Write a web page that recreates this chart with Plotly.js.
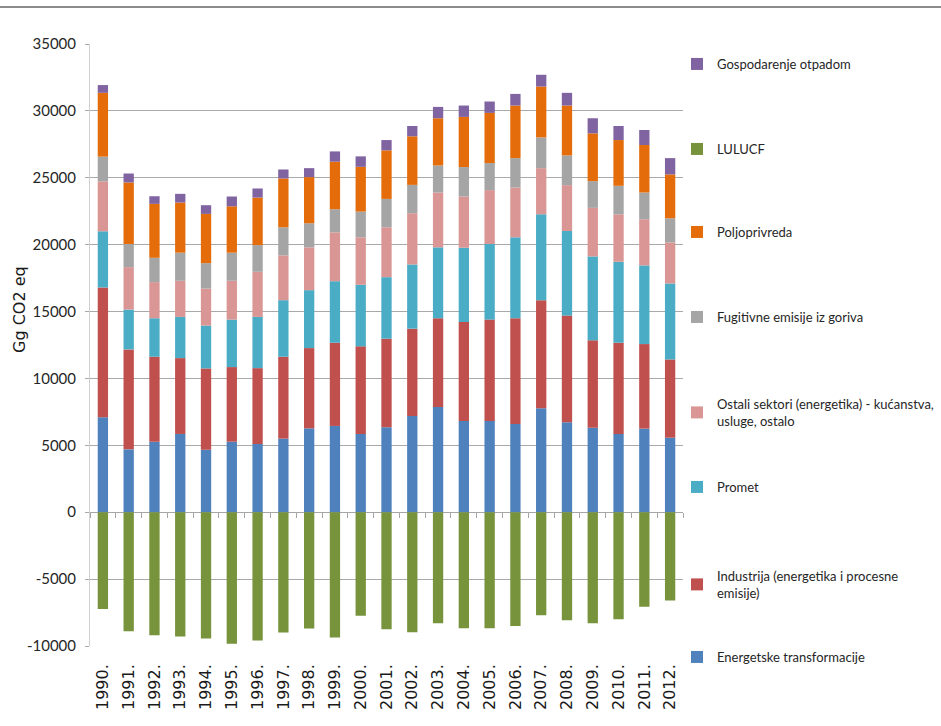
<!DOCTYPE html>
<html>
<head>
<meta charset="utf-8">
<script src="https://cdn.plot.ly/plotly-3.0.1.min.js"></script>
<style>
  html, body { margin: 0; padding: 0; background: #ffffff; }
  #wrap { position: relative; width: 941px; height: 726px; }
  #chart { width: 941px; height: 726px; }
  #topline { position: absolute; left: 0; top: 6px; width: 941px; height: 2px; background: #8c8c8c; z-index: 5; }
</style>
</head>
<body>
<div id="wrap">
  <div id="topline"></div>
  <div id="chart"></div>
</div>
<script>
// ---- data (Gg CO2 eq) ----
const years = ["1990.","1991.","1992.","1993.","1994.","1995.","1996.","1997.","1998.","1999.","2000.","2001.","2002.","2003.","2004.","2005.","2006.","2007.","2008.","2009.","2010.","2011.","2012."];

const energetske = [7100,4700,5270,5850,4670,5270,5100,5500,6270,6450,5850,6350,7200,7870,6820,6820,6600,7770,6720,6320,5850,6250,5570];
const industrija = [9700,7470,6350,5670,6080,5580,5670,6120,6000,6220,6550,6620,6520,6630,7400,7580,7900,8080,7980,6530,6820,6320,5850];
const promet = [4200,2980,2880,3080,3200,3550,3830,4230,4330,4600,4600,4600,4800,5300,5550,5650,6050,6420,6320,6270,6050,5880,5680];
const ostaliSektori = [3730,3170,2700,2700,2770,2900,3370,3350,3200,3650,3550,3730,3830,4100,3830,4030,3720,3450,3430,3630,3550,3450,3070];
const fugitivne = [1850,1730,1820,2100,1900,2100,2000,2100,1800,1730,1920,2120,2120,2020,2200,2020,2200,2300,2220,2000,2130,2000,1800];
const poljoprivreda = [4770,4600,4030,3750,3680,3470,3550,3650,3450,3550,3350,3630,3630,3530,3750,3750,3930,3800,3730,3570,3420,3550,3280];
const otpad = [580,670,570,650,650,730,680,670,670,770,780,770,770,850,850,850,870,880,950,1130,1050,1120,1220];
const lulucf = [-7240,-8890,-9190,-9290,-9440,-9840,-9590,-8990,-8690,-9360,-7740,-8750,-8970,-8300,-8680,-8680,-8500,-7700,-8080,-8300,-8000,-7060,-6590];

// y-axis tick values and labels
const yTickVals = [-10000,-5000,0,5000,10000,15000,20000,25000,30000,35000];
const yTickText = ["-10000","-5000","0","5000","10000","15000","20000","25000","30000","35000"];
const yTitle = "Gg CO2 eq";

const seriesNames = [
  "Energetske transformacije",
  "Industrija (energetika i procesne<br>emisije)",
  "Promet",
  "Ostali sektori (energetika) - kućanstva,<br>usluge, ostalo",
  "Fugitivne emisije iz goriva",
  "Poljoprivreda",
  "Gospodarenje otpadom",
  "LULUCF"
];
const seriesColors = ["#4F81BD","#C0504D","#4BACC6","#D99694","#A5A5A5","#E46C0A","#8064A2","#77933C"];
const seriesValues = [energetske, industrija, promet, ostaliSektori, fugitivne, poljoprivreda, otpad, lulucf];

// ---- layout geometry ----
const W = 941, H = 726;
const M = {l: 90, r: 258, t: 44, b: 80, autoexpand: false};
const plotH = H - M.t - M.b;
const plotW = W - M.l - M.r;
// legend row centre (px from top), same order as seriesNames
const legendRowPx = [658, 577, 488, 405, 318, 233, 65, 150];
const legendLeftPx = 677;
const legendTopOffset = 16;
const yTitlePx = {x: 19, y: 310};

const narrowFamily = "Lato, Liberation Sans, Arial, sans-serif";
const legendFont = {family: narrowFamily, size: 13, color: "#262626"};

const traces = seriesNames.map((name, i) => ({
  type: "bar",
  name: name,
  x: years,
  y: seriesValues[i],
  marker: {color: seriesColors[i], line: {width: 0}},
  xaxis: i === 7 ? "x2" : "x",
  yaxis: "y",
  legend: i === 0 ? "legend" : "legend" + (i + 1),
  hovertemplate: "%{x} %{y}<extra></extra>"
}));

const layout = {
  width: W, height: H,
  margin: M,
  paper_bgcolor: "#ffffff",
  plot_bgcolor: "#ffffff",
  barmode: "relative",
  bargap: 0.6,
  showlegend: true,
  xaxis: {
    type: "category",
    range: [-0.5, 22.5],
    showgrid: false,
    zeroline: false,
    showline: false,
    ticks: "",
    tickangle: -90,
    ticklabelstandoff: 14,
    tickfont: {family: "DejaVu Sans, Verdana, sans-serif", size: 16, color: "#1a1a1a"}
  },
  xaxis2: {
    type: "category",
    overlaying: "x",
    anchor: "free",
    position: 10000 / 45000,
    range: [-0.5, 22.5],
    showgrid: false,
    zeroline: false,
    showline: false,
    showticklabels: false,
    ticks: "outside",
    tickson: "boundaries",
    ticklen: 5,
    tickcolor: "#a6a6a6",
    tickwidth: 1
  },
  yaxis: {
    range: [-10000, 35000],
    tickmode: "array",
    tickvals: yTickVals,
    ticktext: yTickText,
    showgrid: true,
    gridcolor: "#a9a9a9",
    gridwidth: 1,
    zeroline: true,
    zerolinecolor: "#a6a6a6",
    zerolinewidth: 1,
    showline: true,
    linecolor: "#d0d0d0",
    linewidth: 1,
    ticks: "outside",
    ticklen: 4,
    tickcolor: "#a9a9a9",
    ticklabelstandoff: 6,
    tickfont: {family: narrowFamily, size: 15, color: "#262626"}
  },
  annotations: [{
    text: yTitle,
    xref: "paper", yref: "paper",
    x: (yTitlePx.x - M.l) / plotW,
    y: (H - M.b - yTitlePx.y) / plotH,
    xanchor: "center", yanchor: "middle",
    textangle: -90,
    showarrow: false,
    font: {family: "DejaVu Sans, Verdana, sans-serif", size: 16, color: "#1a1a1a"}
  }]
};

seriesNames.forEach((n, i) => {
  const key = i === 0 ? "legend" : "legend" + (i + 1);
  layout[key] = {
    x: (legendLeftPx - M.l) / plotW,
    y: (H - M.b - (legendRowPx[i] - legendTopOffset)) / plotH,
    xanchor: "left",
    yanchor: "top",
    bgcolor: "rgba(0,0,0,0)",
    borderwidth: 0,
    font: legendFont,
    itemclick: false,
    itemdoubleclick: false
  };
});

Plotly.newPlot("chart", traces, layout, {displayModeBar: false, staticPlot: true});
</script>
</body>
</html>
